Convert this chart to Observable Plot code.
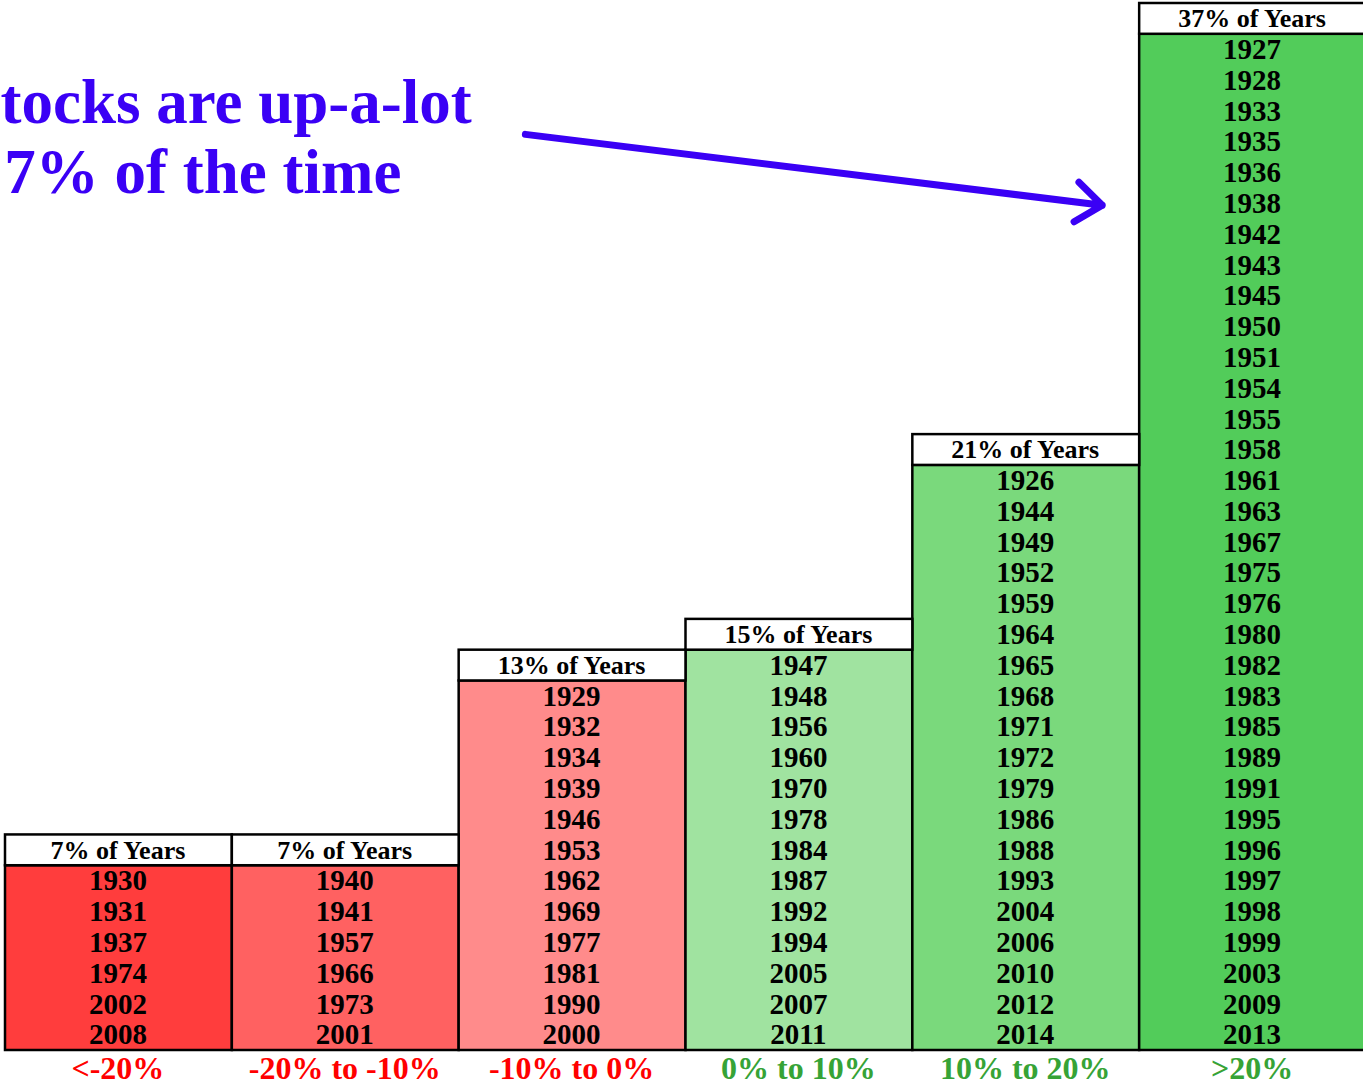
<!DOCTYPE html>
<html>
<head>
<meta charset="utf-8">
<script src="https://cdn.jsdelivr.net/npm/d3@7"></script>
<script src="https://cdn.jsdelivr.net/npm/@observablehq/plot@0.6"></script>
<style>
  html, body { margin: 0; padding: 0; background: #fff; overflow: hidden; }
</style>
</head>
<body>
<div id="chart"></div>
<script>
const categories = ["<-20%", "-20% to -10%", "-10% to 0%", "0% to 10%", "10% to 20%", ">20%"];
const shareLabels = ["7% of Years", "7% of Years", "13% of Years", "15% of Years", "21% of Years", "37% of Years"];
const yearsLtMinus20 = [1930, 1931, 1937, 1974, 2002, 2008];
const yearsMinus20to10 = [1940, 1941, 1957, 1966, 1973, 2001];
const yearsMinus10to0 = [1929, 1932, 1934, 1939, 1946, 1953, 1962, 1969, 1977, 1981, 1990, 2000];
const years0to10 = [1947, 1948, 1956, 1960, 1970, 1978, 1984, 1987, 1992, 1994, 2005, 2007, 2011];
const years10to20 = [1926, 1944, 1949, 1952, 1959, 1964, 1965, 1968, 1971, 1972, 1979, 1986, 1988, 1993, 2004, 2006, 2010, 2012, 2014];
const yearsGt20 = [1927, 1928, 1933, 1935, 1936, 1938, 1942, 1943, 1945, 1950, 1951, 1954, 1955, 1958, 1961, 1963, 1967, 1975, 1976, 1980, 1982, 1983, 1985, 1989, 1991, 1995, 1996, 1997, 1998, 1999, 2003, 2009, 2013];
const cellColors = ["#FF3D3D", "#FF6161", "#FF8B8B", "#A0E3A0", "#7AD97C", "#52CC5A"];
const labelColors = ["#FF0000", "#FF0000", "#FF0000", "#36A336", "#36A336", "#36A336"];
const annotationLines = ["tocks are up-a-lot", "7% of the time"];

const yearLists = [yearsLtMinus20, yearsMinus20to10, yearsMinus10to0, years0to10, years10to20, yearsGt20];

const blocks = yearLists.map((ys, i) => ({col: i, n: ys.length, color: cellColors[i], share: shareLabels[i], label: categories[i], labelColor: labelColors[i]}));
const cells = yearLists.flatMap((ys, i) => ys.map((y, k) => ({col: i, year: String(y), pos: ys.length - 1 - k + 0.5})));
const annot = annotationLines.map((t, i) => ({text: t, x: i === 0 ? -0.022 : -0.005, y: i === 0 ? 30.13 : 27.86}));
const arrowData = [{x1: 2.292, y1: 29.75, x2: 4.835, y2: 27.45}];

const font = "'Liberation Serif', 'DejaVu Serif', serif";

const chart = Plot.plot({
  width: 1366,
  height: 1086,
  marginLeft: 5,
  marginRight: 0,
  marginTop: 3,
  marginBottom: 36,
  style: {maxWidth: "none", overflow: "visible", background: "white"},
  x: {type: "linear", domain: [0, 6], axis: null},
  y: {type: "linear", domain: [0, 34], axis: null},
  color: {type: "identity"},
  marks: [
    Plot.rect(blocks, {x1: d => d.col, x2: d => d.col + 1, y1: 0, y2: d => d.n, fill: d => d.color, stroke: "black", strokeWidth: 2.5}),
    Plot.rect(blocks, {x1: d => d.col, x2: d => d.col + 1, y1: d => d.n, y2: d => d.n + 1, fill: "white", stroke: "black", strokeWidth: 2.5}),
    Plot.text(cells, {x: d => d.col + 0.5, y: "pos", dx: -1, text: "year", fontFamily: font, fontWeight: "bold", fontSize: 29, fill: "black", lineAnchor: "middle"}),
    Plot.text(blocks, {x: d => d.col + 0.5, y: d => d.n + 0.5, dx: -1, text: "share", fontFamily: font, fontWeight: "bold", fontSize: 26, fill: "black", lineAnchor: "middle"}),
    Plot.text(blocks, {x: d => d.col + 0.5, y: 0, dy: 18, dx: -1, text: "label", fontFamily: font, fontWeight: "bold", fontSize: 32, fill: d => d.labelColor, lineAnchor: "middle"}),
    Plot.text(annot, {x: "x", y: "y", text: "text", textAnchor: "start", lineAnchor: "bottom", fontFamily: font, fontWeight: "bold", fontSize: 63, fill: "#3A00F5"}),
    Plot.arrow(arrowData, {x1: "x1", y1: "y1", x2: "x2", y2: "y2", stroke: "#3A00F5", strokeWidth: 7, headLength: 7, headAngle: 75})
  ]
});
document.getElementById("chart").appendChild(chart);
</script>
</body>
</html>
